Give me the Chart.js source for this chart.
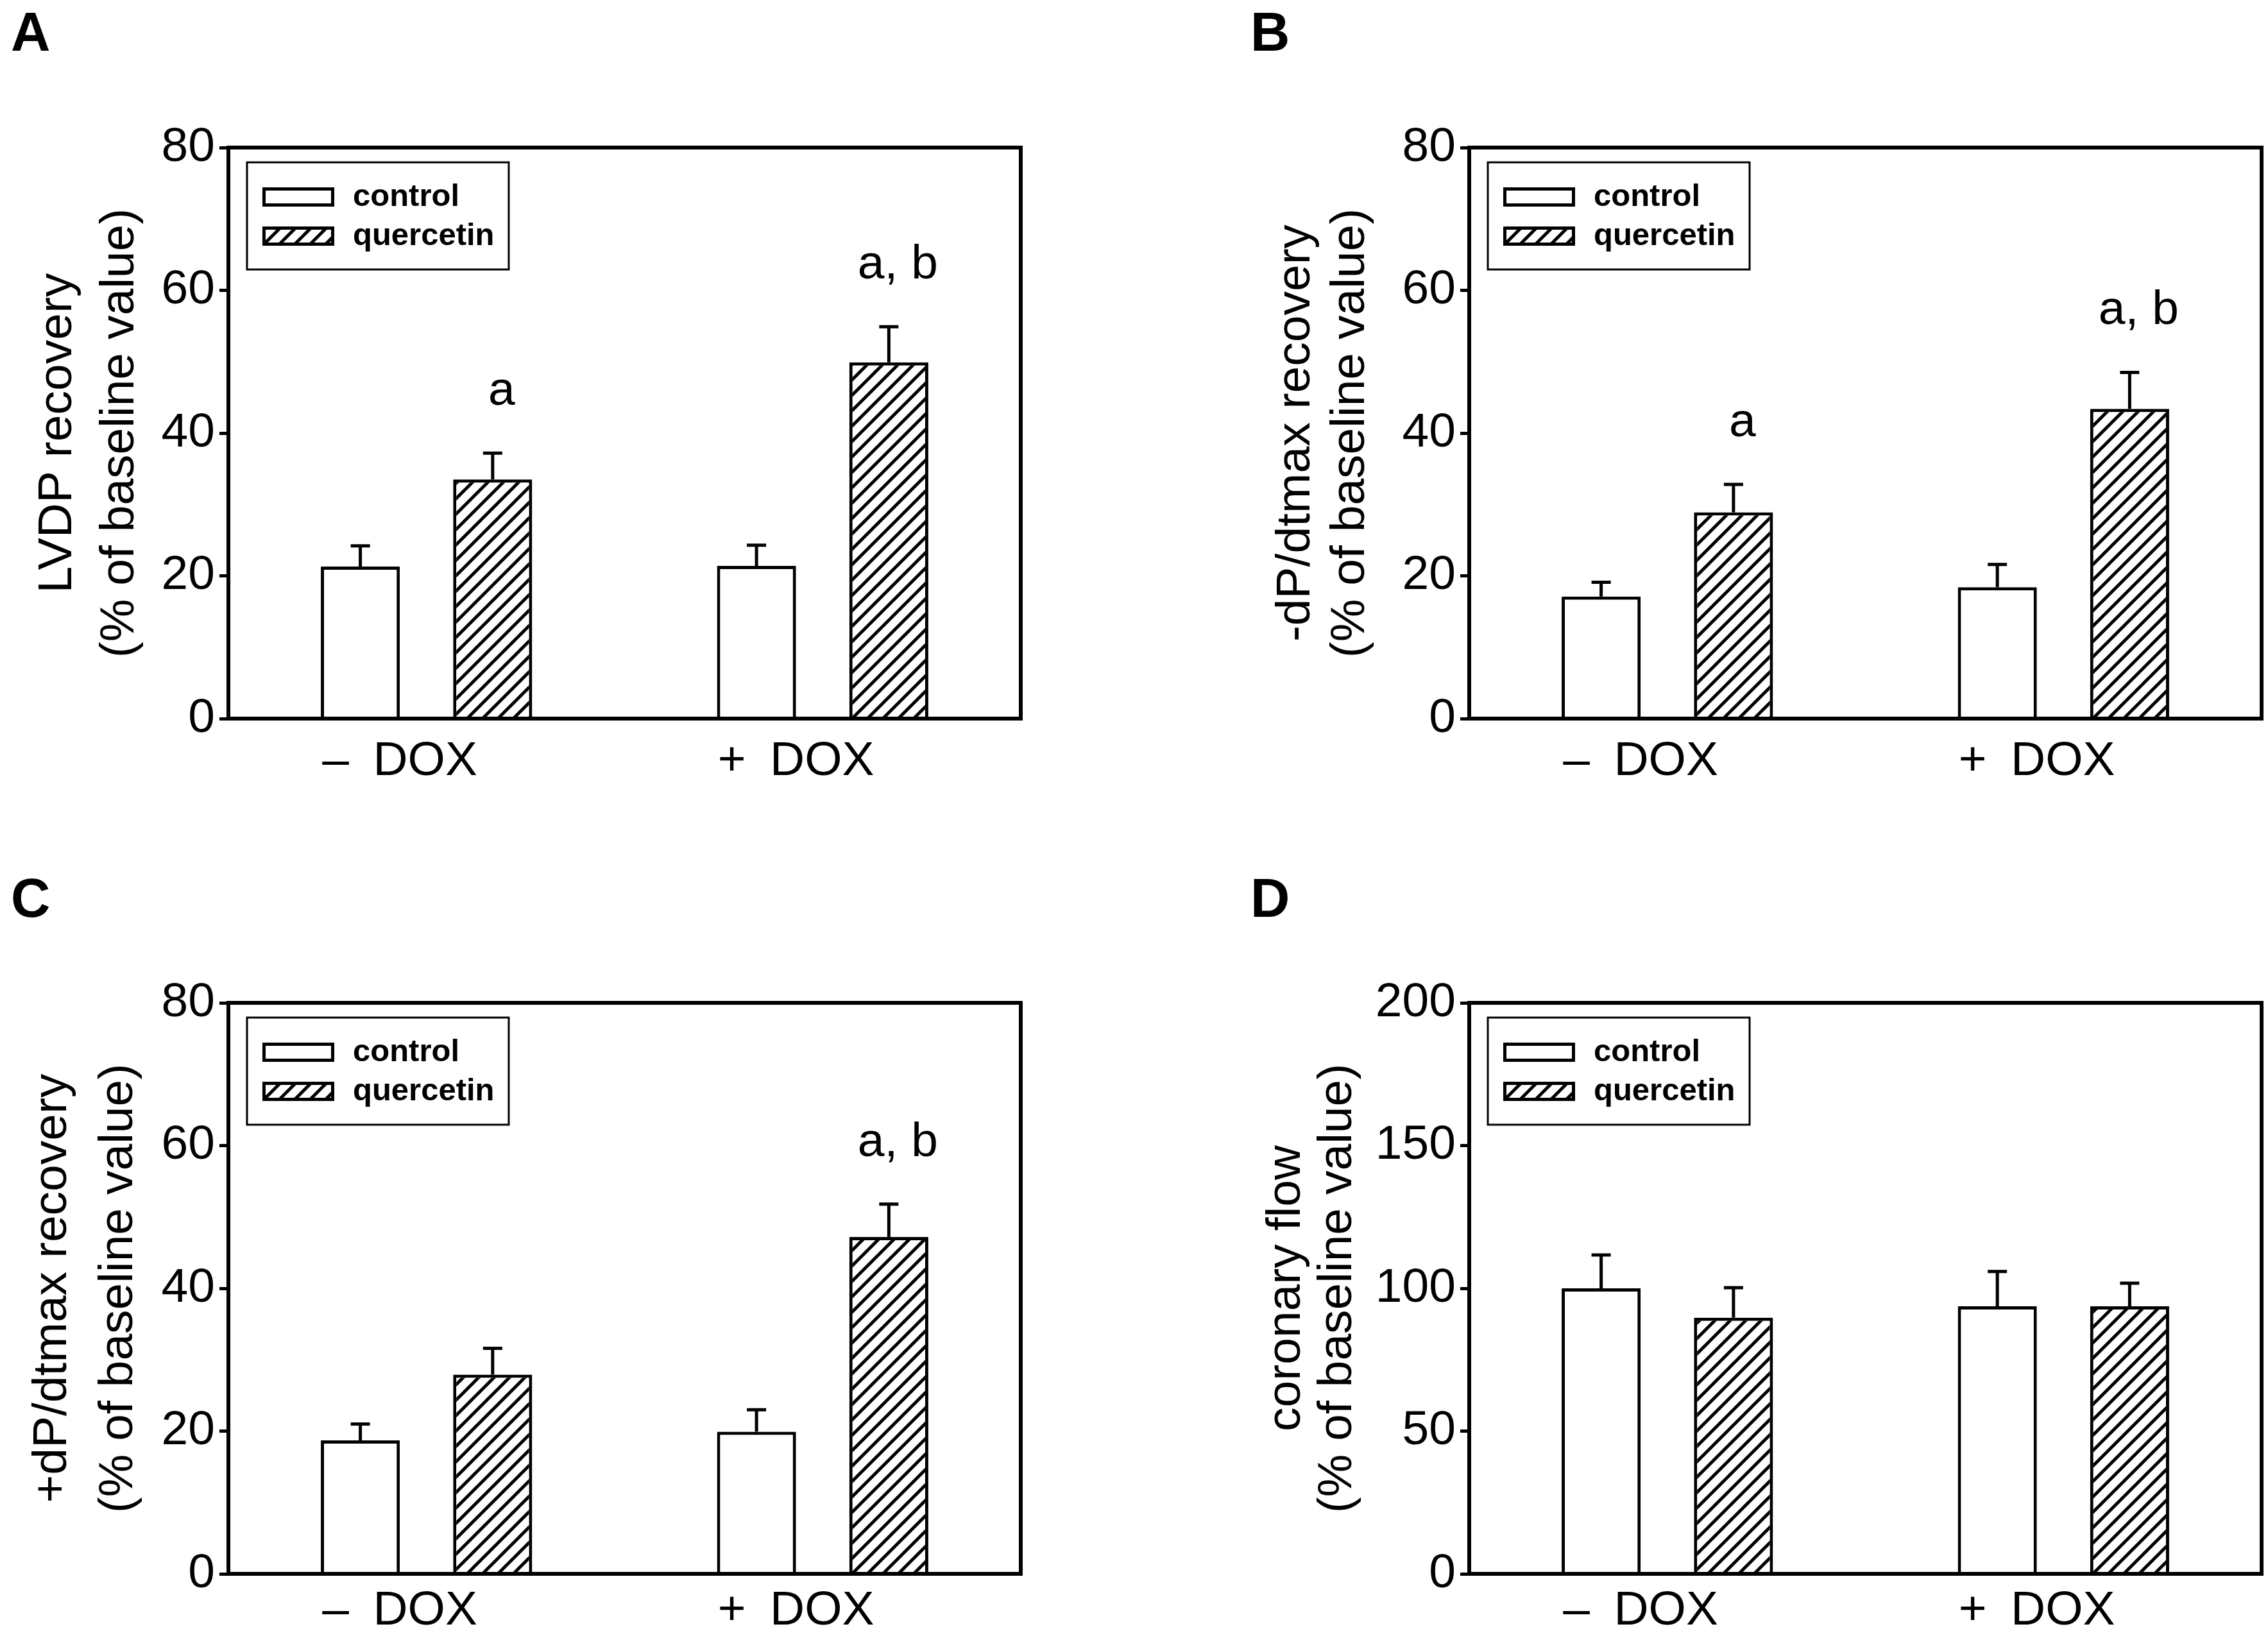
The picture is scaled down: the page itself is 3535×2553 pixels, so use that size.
<!DOCTYPE html>
<html>
<head>
<meta charset="utf-8">
<script src="https://cdn.jsdelivr.net/npm/chart.js@4.4.1/dist/chart.umd.min.js"></script>
<style>
  html, body { margin: 0; padding: 0; background: #fff; overflow: hidden; }
  #page { position: relative; width: 3535px; height: 2553px; background: #fff; }
  canvas { position: absolute; }
  .tag { position: absolute; font: bold 85px 'Liberation Sans', Arial, sans-serif; line-height: 85px; color: #000; }
</style>
</head>
<body>
<div id="page">
  <div class="tag" style="left:17px;top:7px">A</div>
  <div class="tag" style="left:1949px;top:7px">B</div>
  <div class="tag" style="left:17px;top:1357px">C</div>
  <div class="tag" style="left:1949px;top:1357px">D</div>
  <canvas id="chartA" width="1600" height="1290" style="left:0;top:0"></canvas>
  <canvas id="chartB" width="1600" height="1290" style="left:1934px;top:0"></canvas>
  <canvas id="chartC" width="1600" height="1220" style="left:0;top:1333px"></canvas>
  <canvas id="chartD" width="1600" height="1220" style="left:1934px;top:1333px"></canvas>
</div>
<script>
// DATA
let categories = ["\u2013\u2002DOX", "+\u2002DOX"];
let seriesNames = ["control", "quercetin"];

let lvdpControl = [21.3, 21.4];
let lvdpControlErr = [2.9, 2.9];
let lvdpQuercetin = [33.5, 49.9];
let lvdpQuercetinErr = [3.7, 5.0];
let lvdpMarks = ["a", "a, b"];

let minusDpControl = [17.1, 18.4];
let minusDpControlErr = [2.0, 3.2];
let minusDpQuercetin = [28.9, 43.4];
let minusDpQuercetinErr = [3.9, 5.1];
let minusDpMarks = ["a", "a, b"];

let plusDpControl = [18.7, 19.9];
let plusDpControlErr = [2.3, 3.1];
let plusDpQuercetin = [27.9, 47.2];
let plusDpQuercetinErr = [3.7, 4.6];
let plusDpMarks = ["", "a, b"];

let flowControl = [100, 93.7];
let flowControlErr = [11.7, 12.2];
let flowQuercetin = [89.7, 93.7];
let flowQuercetinErr = [10.5, 8.1];
let flowMarks = ["", ""];

let ticks80 = [0, 20, 40, 60, 80];
let ticks200 = [0, 50, 100, 150, 200];

const FONT = "'Liberation Sans', Arial, sans-serif";
Chart.defaults.font.family = FONT;
Chart.defaults.color = "#000";

// diagonal hatch used for quercetin bars
function makeHatch(ctx) {
  const s = 24;
  const c = document.createElement("canvas");
  c.width = s; c.height = s;
  const g = c.getContext("2d");
  g.fillStyle = "#fff";
  g.fillRect(0, 0, s, s);
  g.strokeStyle = "#000";
  g.lineWidth = 5;
  g.beginPath();
  for (let k = 0; k <= 2; k++) {
    g.moveTo(-s, k * s + s);
    g.lineTo(k * s + s, -s);
  }
  g.stroke();
  return ctx.createPattern(c, "repeat");
}

// error bars (upper only) and significance letters
const errorBars = {
  id: "errorBars",
  afterDatasetsDraw(chart) {
    const ctx = chart.ctx;
    const y = chart.scales.y;
    chart.data.datasets.forEach((ds, i) => {
      chart.getDatasetMeta(i).data.forEach((bar, j) => {
        const top = y.getPixelForValue(ds.data[j] + ds.errors[j]);
        ctx.save();
        ctx.strokeStyle = "#000";
        ctx.lineWidth = 5;
        ctx.beginPath();
        ctx.moveTo(bar.x, bar.y);
        ctx.lineTo(bar.x, top);
        ctx.moveTo(bar.x - 15, top);
        ctx.lineTo(bar.x + 15, top);
        ctx.stroke();
        if (ds.marks && ds.marks[j]) {
          ctx.fillStyle = "#000";
          ctx.font = "75px " + FONT;
          ctx.textAlign = "center";
          ctx.textBaseline = "alphabetic";
          ctx.fillText(ds.marks[j], bar.x + 14, top - 75);
        }
        ctx.restore();
      });
    });
  }
};

// box round the plot
const frame = {
  id: "frame",
  afterDatasetsDraw(chart) {
    const a = chart.chartArea, ctx = chart.ctx;
    ctx.save();
    ctx.strokeStyle = "#000";
    ctx.lineWidth = 6;
    ctx.strokeRect(a.left, a.top, a.right - a.left, a.bottom - a.top);
    ctx.restore();
  }
};

// legend box in the upper left corner
const boxLegend = {
  id: "boxLegend",
  afterDraw(chart) {
    const a = chart.chartArea, ctx = chart.ctx;
    const x0 = a.left + 29, y0 = a.top + 23;
    ctx.save();
    ctx.fillStyle = "#fff";
    ctx.fillRect(x0, y0, 408, 167);
    ctx.strokeStyle = "#000";
    ctx.lineWidth = 3;
    ctx.strokeRect(x0, y0, 408, 167);
    chart.data.datasets.forEach((ds, i) => {
      const sy = y0 + 39 + i * 61;
      ctx.fillStyle = ds.backgroundColor;
      ctx.fillRect(x0 + 24, sy, 112, 30);
      ctx.lineWidth = 5;
      ctx.strokeRect(x0 + 26.5, sy + 2.5, 107, 25);
      ctx.fillStyle = "#000";
      ctx.font = "bold 49px " + FONT;
      ctx.textAlign = "left";
      ctx.textBaseline = "middle";
      ctx.fillText(ds.label, x0 + 165, sy + 15);
    });
    ctx.restore();
  }
};

// look: per-panel title placement (centre of first title line, gap between lines)
// and gap between axis and the x labels
function makePanel(id, title, yTicks, control, controlErr, quercetin, quercetinErr, marks, look) {
  const canvas = document.getElementById(id);
  const ctx = canvas.getContext("2d");
  const H = canvas.height;
  const padLeft = look.titleX - look.titleGap / 2;
  return new Chart(canvas, {
    type: "bar",
    data: {
      labels: categories,
      datasets: [
        {
          label: seriesNames[0],
          data: control,
          errors: controlErr,
          backgroundColor: "#fff",
          borderColor: "#000",
          borderWidth: 5,
          borderSkipped: "bottom"
        },
        {
          label: seriesNames[1],
          data: quercetin,
          errors: quercetinErr,
          marks: marks,
          backgroundColor: makeHatch(ctx),
          borderColor: "#000",
          borderWidth: 5,
          borderSkipped: "bottom"
        }
      ]
    },
    options: {
      responsive: false,
      animation: false,
      devicePixelRatio: 1,
      categoryPercentage: 0.668,
      barPercentage: 0.597,
      layout: { padding: { left: padLeft, top: 230, right: 9, bottom: 0 } },
      plugins: { legend: { display: false }, tooltip: { enabled: false } },
      scales: {
        x: {
          grid: { display: false, drawTicks: false },
          border: { display: false },
          ticks: {
            color: "#000",
            font: { size: 75 },
            padding: look.labelPad,
            // trailing spaces keep "DOX" itself centred under the group
            callback: function (v) { return this.getLabelForValue(v) + "    "; }
          },
          afterFit: s => { s.height = H - 1120; }
        },
        y: {
          min: yTicks[0],
          max: yTicks[yTicks.length - 1],
          afterBuildTicks: s => { s.ticks = yTicks.map(v => ({ value: v })); },
          ticks: { color: "#000", font: { size: 75 }, padding: 7 },
          grid: { drawOnChartArea: false, drawTicks: true, tickLength: 14, tickWidth: 5, tickColor: "#000" },
          border: { display: false },
          title: {
            display: true,
            text: [title, "(% of baseline value)"],
            color: "#000",
            font: { size: 75, lineHeight: look.titleGap / 75 },
            padding: { top: 0, bottom: 0 }
          },
          afterFit: s => { s.width = 356 - padLeft; }
        }
      }
    },
    plugins: [errorBars, frame, boxLegend]
  });
}

makePanel("chartA", "LVDP recovery", ticks80, lvdpControl, lvdpControlErr, lvdpQuercetin, lvdpQuercetinErr, lvdpMarks,
  { titleX: 90, titleGap: 97, labelPad: 22 });
makePanel("chartB", "-dP/dtmax recovery", ticks80, minusDpControl, minusDpControlErr, minusDpQuercetin, minusDpQuercetinErr, minusDpMarks,
  { titleX: 86, titleGap: 85, labelPad: 22 });
makePanel("chartC", "+dP/dtmax recovery", ticks80, plusDpControl, plusDpControlErr, plusDpQuercetin, plusDpQuercetinErr, plusDpMarks,
  { titleX: 82, titleGap: 103, labelPad: 13 });
makePanel("chartD", "coronary flow", ticks200, flowControl, flowControlErr, flowQuercetin, flowQuercetinErr, flowMarks,
  { titleX: 71, titleGap: 80, labelPad: 13 });
</script>
</body>
</html>
